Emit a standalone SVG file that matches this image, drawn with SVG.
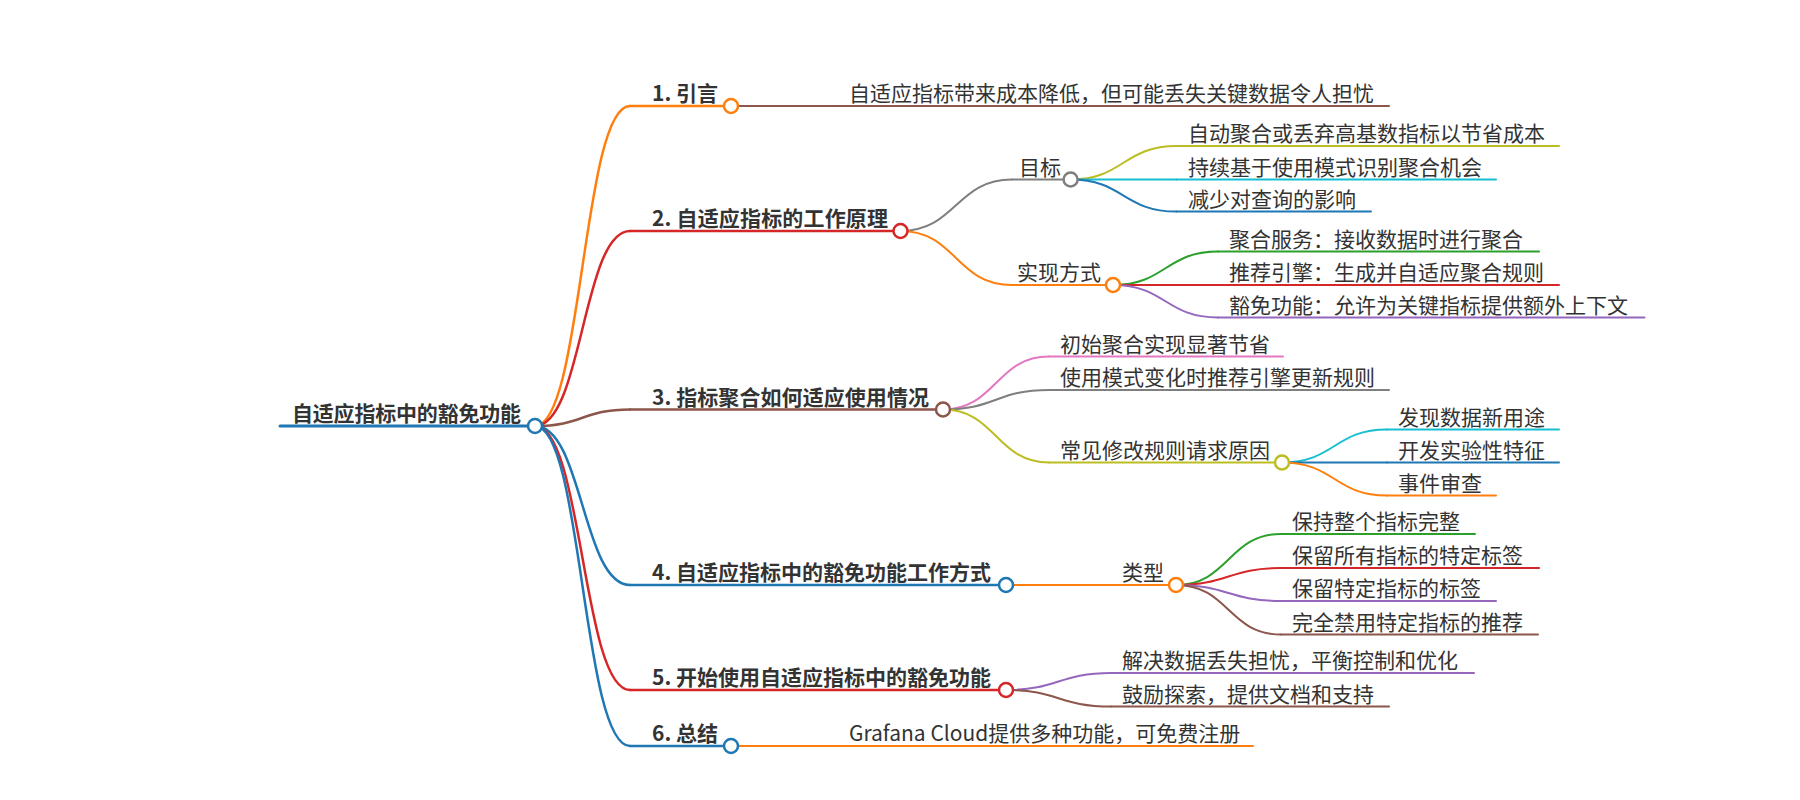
<svg xmlns="http://www.w3.org/2000/svg" width="1800" height="800" viewBox="0 0 1800 800">
<style>
  text { font-family: "Noto Sans CJK SC", "Liberation Sans", sans-serif; font-size: 21px; fill: #333; }
  .b { font-weight: bold; }
  .ln { fill: none; stroke-linecap: round; }
  .w3 { stroke-width: 3; }
  .w25 { stroke-width: 2.5; }
  .w2 { stroke-width: 2; }
  .dot { fill: #fff; stroke-width: 2.5; }
  .orange { stroke: #ff7f0e; } .red { stroke: #d62728; } .brown { stroke: #8c564b; }
  .blue { stroke: #1f77b4; } .gray { stroke: #7f7f7f; } .olive { stroke: #bcbd22; }
  .cyan { stroke: #17becf; } .green { stroke: #2ca02c; } .purple { stroke: #9467bd; }
  .pink { stroke: #e377c2; }
</style>
<rect width="1800" height="800" fill="#fff"/>
<g id="connectors">
  <path class="ln w25 orange" d="M535 426 C582.5 426 582.5 106 630 106"/>
  <path class="ln w25 red" d="M535 426 C582.5 426 582.5 231 630 231"/>
  <path class="ln w25 brown" d="M535 426 C582.5 426 582.5 409.5 630 409.5"/>
  <path class="ln w25 blue" d="M535 426 C582.5 426 582.5 585 630 585"/>
  <path class="ln w25 red" d="M535 426 C582.5 426 582.5 690 630 690"/>
  <path class="ln w25 blue" d="M535 426 C582.5 426 582.5 746 630 746"/>
  <path class="ln w2 brown" d="M731 106 H837"/>
  <path class="ln w2 gray" d="M900.5 231 C956 231 956 179.5 1012 179.5"/>
  <path class="ln w2 orange" d="M900.5 231 C956 231 956 285 1012 285"/>
  <path class="ln w2 olive" d="M1070.6 179.5 C1123.5 179.5 1123.5 146 1176.5 146"/>
  <path class="ln w2 cyan" d="M1070.6 179.5 H1176.5"/>
  <path class="ln w2 blue" d="M1070.6 179.5 C1123.5 179.5 1123.5 211.6 1176.5 211.6"/>
  <path class="ln w2 green" d="M1113 285 C1165.5 285 1165.5 251.5 1218 251.5"/>
  <path class="ln w2 red" d="M1113 285 H1218"/>
  <path class="ln w2 purple" d="M1113 285 C1165.5 285 1165.5 317.5 1218 317.5"/>
  <path class="ln w2 pink" d="M943 409.5 C996 409.5 996 356.5 1049 356.5"/>
  <path class="ln w2 gray" d="M943 409.5 C996 409.5 996 390 1049 390"/>
  <path class="ln w2 olive" d="M943 409.5 C996 409.5 996 462.5 1049 462.5"/>
  <path class="ln w2 cyan" d="M1282 462.5 C1334.5 462.5 1334.5 429.5 1387 429.5"/>
  <path class="ln w2 blue" d="M1282 462.5 H1387"/>
  <path class="ln w2 orange" d="M1282 462.5 C1334.5 462.5 1334.5 495.5 1387 495.5"/>
  <path class="ln w2 orange" d="M1006 585 H1112"/>
  <path class="ln w2 green" d="M1176 585 C1228.5 585 1228.5 534 1281 534"/>
  <path class="ln w2 red" d="M1176 585 C1228.5 585 1228.5 568 1281 568"/>
  <path class="ln w2 purple" d="M1176 585 C1228.5 585 1228.5 601 1281 601"/>
  <path class="ln w2 brown" d="M1176 585 C1228.5 585 1228.5 634.5 1281 634.5"/>
  <path class="ln w2 purple" d="M1006 690 C1058.5 690 1058.5 673 1111 673"/>
  <path class="ln w2 brown" d="M1006 690 C1058.5 690 1058.5 706.5 1111 706.5"/>
  <path class="ln w2 orange" d="M731 746 H837"/>
</g>

<g id="root">
  <path class="ln w3 blue" d="M280 426 H535"/>
  <text class="b" x="292" y="421" textLength="229" lengthAdjust="spacing">自适应指标中的豁免功能</text>
  <circle class="dot blue" cx="535" cy="426" r="7"/>
</g>

<g id="n1">
  <path class="ln w25 orange" d="M630 106 H731"/>
  <text class="b" x="652" y="101">1. 引言</text>
  <circle class="dot orange" cx="731" cy="106" r="7"/>
</g>
<g id="n1-1">
  <path class="ln w2 brown" d="M837 106 H1389"/>
  <text x="849" y="101">自适应指标带来成本降低，但可能丢失关键数据令人担忧</text>
</g>

<g id="n2">
  <path class="ln w25 red" d="M630 231 H900.5"/>
  <text class="b" x="652" y="226" textLength="236" lengthAdjust="spacing">2. 自适应指标的工作原理</text>
  <circle class="dot red" cx="900.5" cy="231" r="7"/>
</g>
<g id="n2-1">
  <path class="ln w2 gray" d="M1012 179.5 H1070.6"/>
  <text x="1019" y="174.5">目标</text>
  <circle class="dot gray" cx="1070.6" cy="179.5" r="7"/>
</g>
<g id="n2-1-1">
  <path class="ln w2 olive" d="M1176.5 146 H1559"/>
  <text x="1188" y="141">自动聚合或丢弃高基数指标以节省成本</text>
</g>
<g id="n2-1-2">
  <path class="ln w2 cyan" d="M1176.5 179.5 H1496"/>
  <text x="1188" y="174.5">持续基于使用模式识别聚合机会</text>
</g>
<g id="n2-1-3">
  <path class="ln w2 blue" d="M1176.5 211.6 H1371"/>
  <text x="1188" y="206.6">减少对查询的影响</text>
</g>
<g id="n2-2">
  <path class="ln w2 orange" d="M1012 285 H1113"/>
  <text x="1017" y="280">实现方式</text>
  <circle class="dot orange" cx="1113" cy="285" r="7"/>
</g>
<g id="n2-2-1">
  <path class="ln w2 green" d="M1218 251.5 H1539"/>
  <text x="1229" y="246.5">聚合服务：接收数据时进行聚合</text>
</g>
<g id="n2-2-2">
  <path class="ln w2 red" d="M1218 285 H1559"/>
  <text x="1229" y="280">推荐引擎：生成并自适应聚合规则</text>
</g>
<g id="n2-2-3">
  <path class="ln w2 purple" d="M1218 317.5 H1644.5"/>
  <text x="1229" y="312.5">豁免功能：允许为关键指标提供额外上下文</text>
</g>

<g id="n3">
  <path class="ln w25 brown" d="M630 409.5 H943"/>
  <text class="b" x="652" y="404.5" textLength="277" lengthAdjust="spacing">3. 指标聚合如何适应使用情况</text>
  <circle class="dot brown" cx="943" cy="409.5" r="7"/>
</g>
<g id="n3-1">
  <path class="ln w2 pink" d="M1049 356.5 H1283"/>
  <text x="1060" y="351.5">初始聚合实现显著节省</text>
</g>
<g id="n3-2">
  <path class="ln w2 gray" d="M1049 390 H1389"/>
  <text x="1060" y="385">使用模式变化时推荐引擎更新规则</text>
</g>
<g id="n3-3">
  <path class="ln w2 olive" d="M1049 462.5 H1282"/>
  <text x="1060" y="457.5">常见修改规则请求原因</text>
  <circle class="dot olive" cx="1282" cy="462.5" r="7"/>
</g>
<g id="n3-3-1">
  <path class="ln w2 cyan" d="M1387 429.5 H1559"/>
  <text x="1398" y="424.5">发现数据新用途</text>
</g>
<g id="n3-3-2">
  <path class="ln w2 blue" d="M1387 462.5 H1559"/>
  <text x="1398" y="457.5">开发实验性特征</text>
</g>
<g id="n3-3-3">
  <path class="ln w2 orange" d="M1387 495.5 H1496"/>
  <text x="1398" y="490.5">事件审查</text>
</g>

<g id="n4">
  <path class="ln w25 blue" d="M630 585 H1006"/>
  <text class="b" x="652" y="580" textLength="339" lengthAdjust="spacing">4. 自适应指标中的豁免功能工作方式</text>
  <circle class="dot blue" cx="1006" cy="585" r="7"/>
</g>
<g id="n4-1">
  <path class="ln w2 orange" d="M1112 585 H1176"/>
  <text x="1122" y="580">类型</text>
  <circle class="dot orange" cx="1176" cy="585" r="7"/>
</g>
<g id="n4-1-1">
  <path class="ln w2 green" d="M1281 534 H1475"/>
  <text x="1292" y="529">保持整个指标完整</text>
</g>
<g id="n4-1-2">
  <path class="ln w2 red" d="M1281 568 H1539"/>
  <text x="1292" y="563">保留所有指标的特定标签</text>
</g>
<g id="n4-1-3">
  <path class="ln w2 purple" d="M1281 601 H1496"/>
  <text x="1292" y="596">保留特定指标的标签</text>
</g>
<g id="n4-1-4">
  <path class="ln w2 brown" d="M1281 634.5 H1538"/>
  <text x="1292" y="629.5">完全禁用特定指标的推荐</text>
</g>

<g id="n5">
  <path class="ln w25 red" d="M630 690 H1006"/>
  <text class="b" x="652" y="685" textLength="339" lengthAdjust="spacing">5. 开始使用自适应指标中的豁免功能</text>
  <circle class="dot red" cx="1006" cy="690" r="7"/>
</g>
<g id="n5-1">
  <path class="ln w2 purple" d="M1111 673 H1474"/>
  <text x="1122" y="668">解决数据丢失担忧，平衡控制和优化</text>
</g>
<g id="n5-2">
  <path class="ln w2 brown" d="M1111 706.5 H1389"/>
  <text x="1122" y="701.5">鼓励探索，提供文档和支持</text>
</g>

<g id="n6">
  <path class="ln w25 blue" d="M630 746 H731"/>
  <text class="b" x="652" y="741">6. 总结</text>
  <circle class="dot blue" cx="731" cy="746" r="7"/>
</g>
<g id="n6-1">
  <path class="ln w2 orange" d="M837 746 H1253"/>
  <text x="849" y="741">Grafana Cloud提供多种功能，可免费注册</text>
</g>
</svg>
